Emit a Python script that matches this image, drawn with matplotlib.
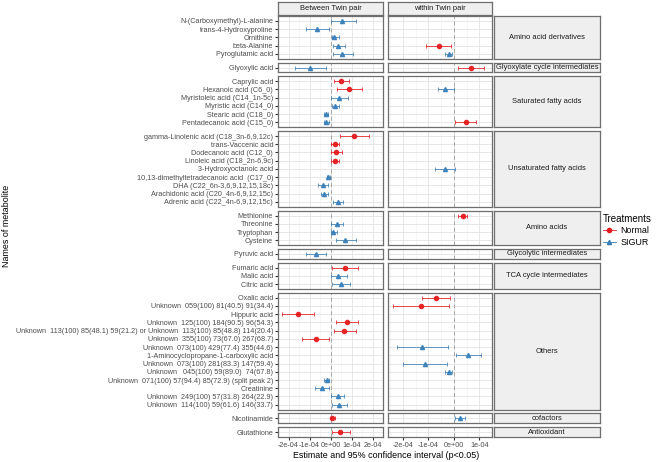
import numpy as np
import matplotlib.pyplot as plt
from matplotlib.lines import Line2D

plt.rcParams['font.family'] = ['Liberation Sans', 'DejaVu Sans']

# facet rows (metabolite classes) and how many metabolites each holds
groups = ['Amino acid derivatives', 'Glyoxylate cycle intermediates', 'Saturated fatty acids',
          'Unsaturated fatty acids', 'Amino acids', 'Glycolytic intermediates',
          'TCA cycle intermediates', 'Others', 'cofactors', 'Antioxidant']
group_sizes = [5, 1, 6, 9, 4, 1, 3, 14, 1, 1]

metabolites = [
    'N-(Carboxymethyl)-L-alanine', 'trans-4-Hydroxyproline', 'Ornithine', 'beta-Alanine',
    'Pyroglutamic acid',
    'Glyoxylic acid',
    'Caprylic acid', 'Hexanoic acid (C6_0)', 'Myristoleic acid (C14_1n-5c)', 'Myristic acid (C14_0)',
    'Stearic acid (C18_0)', 'Pentadecanoic acid (C15_0)',
    'gamma-Linolenic acid (C18_3n-6,9,12c)', 'trans-Vaccenic acid', 'Dodecanoic acid (C12_0)',
    'Linoleic acid (C18_2n-6,9c)', '3-Hydroxyoctanoic acid', '10,13-dimethyltetradecanoic acid  (C17_0)',
    'DHA (C22_6n-3,6,9,12,15,18c)', 'Arachidonic acid (C20_4n-6,9,12,15c)',
    'Adrenic acid (C22_4n-6,9,12,15c)',
    'Methionine', 'Threonine', 'Tryptophan', 'Cysteine',
    'Pyruvic acid',
    'Fumaric acid', 'Malic acid', 'Citric acid',
    'Oxalic acid', 'Unknown  059(100) 81(40.5) 91(34.4)', 'Hippuric acid',
    'Unknown  125(100) 184(90.5) 96(54.3)',
    'Unknown  113(100) 85(48.1) 59(21.2) or Unknown  113(100) 85(48.8) 114(20.4)',
    'Unknown  355(100) 73(67.0) 267(68.7)', 'Unknown  073(100) 429(77.4) 355(44.6)',
    '1-Aminocyclopropane-1-carboxylic acid', 'Unknown  073(100) 281(83.3) 147(59.4)',
    'Unknown   045(100) 59(89.0)  74(67.8)', 'Unknown  071(100) 57(94.4) 85(72.9) (split peak 2)',
    'Creatinine', 'Unknown  249(100) 57(31.8) 264(22.9)', 'Unknown  114(100) 59(61.6) 146(33.7)',
    'Nicotinamide',
    'Glutathione',
]

n_ = np.nan
# Between Twin pair (values in 1e-04)
between_trt = ['S', 'S', 'S', 'S', 'S', 'S', 'N', 'N', 'S', 'S', 'S', 'S', 'N', 'N', 'N', 'N', '',
               'S', 'S', 'S', 'S', '', 'S', 'S', 'S', 'S', 'N', 'S', 'S', '', '', 'N', 'N', 'N',
               'N', '', '', '', '', 'S', 'S', 'S', 'S', 'N', 'N']
between_est = [0.56, -0.63, 0.16, 0.37, 0.56, -0.97, 0.50, 0.86, 0.41, 0.20, -0.20, -0.20, 1.11,
               0.21, 0.26, 0.20, n_, -0.10, -0.34, -0.29, 0.36, n_, 0.33, 0.14, 0.71, -0.71, 0.69,
               0.36, 0.49, n_, n_, -1.54, 0.80, 0.66, -0.70, n_, n_, n_, n_, -0.19, -0.40, 0.34,
               0.40, 0.09, 0.46]
between_lo = [0.00, -1.19, 0.06, 0.10, 0.10, -1.70, 0.16, 0.30, 0.00, 0.06, -0.29, -0.31, 0.44,
              0.03, 0.00, 0.00, n_, -0.17, -0.59, -0.44, 0.13, n_, 0.03, 0.03, 0.26, -1.19, 0.09,
              0.00, 0.09, n_, n_, -2.30, 0.27, 0.16, -1.37, n_, n_, n_, n_, -0.30, -0.73, 0.01,
              0.06, 0.00, 0.06]
between_hi = [1.22, -0.06, 0.39, 0.70, 1.06, -0.20, 0.87, 1.49, 0.81, 0.41, -0.11, -0.09, 1.81,
              0.41, 0.53, 0.41, n_, -0.03, -0.13, -0.13, 0.60, n_, 0.61, 0.33, 1.21, -0.23, 1.30,
              0.79, 0.91, n_, n_, -0.77, 1.31, 1.20, -0.06, n_, n_, n_, n_, -0.09, -0.06, 0.63,
              0.79, 0.20, 0.91]

# within Twin pair (values in 1e-04)
within_trt = ['', '', '', 'N', 'S', 'N', '', 'S', '', '', '', 'N', '', '', '', '', 'S', '', '', '',
              '', 'N', '', '', '', '', '', '', '', 'N', 'N', '', '', '', '', 'S', 'S', 'S', 'S',
              '', '', '', '', 'S', '']
within_est = [n_, n_, n_, -0.60, -0.20, 0.68, n_, -0.33, n_, n_, n_, 0.46, n_, n_, n_, n_, -0.36,
              n_, n_, n_, n_, 0.36, n_, n_, n_, n_, n_, n_, n_, -0.70, -1.30, n_, n_, n_, n_,
              -1.25, 0.55, -1.15, -0.20, n_, n_, n_, n_, 0.24, n_]
within_lo = [n_, n_, n_, -1.08, -0.33, 0.18, n_, -0.63, n_, n_, n_, 0.03, n_, n_, n_, n_, -0.74,
             n_, n_, n_, n_, 0.18, n_, n_, n_, n_, n_, n_, n_, -1.26, -2.41, n_, n_, n_, n_,
             -2.24, 0.09, -2.01, -0.33, n_, n_, n_, n_, 0.05, n_]
within_hi = [n_, n_, n_, -0.11, -0.08, 1.18, n_, 0.00, n_, n_, n_, 0.89, n_, n_, n_, n_, 0.03,
             n_, n_, n_, n_, 0.51, n_, n_, n_, n_, n_, n_, n_, -0.14, -0.20, n_, n_, n_, n_,
             -0.24, 1.05, -0.26, -0.08, n_, n_, n_, n_, 0.45, n_]

panels = [
    ('Between Twin pair', between_trt, np.array(between_est) * 1e-4,
     np.array(between_lo) * 1e-4, np.array(between_hi) * 1e-4, [-2e-4, -1e-4, 0, 1e-4, 2e-4]),
    ('within Twin pair', within_trt, np.array(within_est) * 1e-4,
     np.array(within_lo) * 1e-4, np.array(within_hi) * 1e-4, [-2e-4, -1e-4, 0, 1e-4]),
]

colors = {'N': '#E41A1C', 'S': '#377EB8'}
markers = {'N': 'o', 'S': '^'}

W, H = 660, 462
fig = plt.figure(figsize=(W / 100, H / 100), dpi=100)


def box(x0, y0, x1, y1):
    # pixel box (y measured from top) -> figure fraction rect
    return [x0 / W, 1 - y1 / H, (x1 - x0) / W, (y1 - y0) / H]


col_x = [(278, 383), (388, 492)]
strip_x = (494, 600)
top, bottom, gap = 16, 437, 3.8
unit = (bottom - top - gap * (len(groups) - 1)) / (sum(group_sizes) + 0.2 * len(groups))
border = '#6E6E6E'
strip_fill = '#EFEFEF'
tick_col = '#4D4D4D'
fs = 5.2
strip_fs = 5.4

# column strips on top
for (title, *_), (x0, x1) in zip(panels, col_x):
    sax = fig.add_axes(box(x0, 2, x1, 15))
    sax.set_facecolor(strip_fill)
    sax.set_xticks([]); sax.set_yticks([])
    for s in sax.spines.values():
        s.set_color(border); s.set_linewidth(0.9)
    sax.text(0.5, 0.5, title, ha='center', va='center', fontsize=strip_fs, color='#1A1A1A',
             transform=sax.transAxes)

start = 0
y_cur = top
for gi, (gname, n) in enumerate(zip(groups, group_sizes)):
    h = (n + 0.2) * unit
    rows = slice(start, start + n)
    for pi, ((title, trt, est, lo, hi, ticks), (x0, x1)) in enumerate(zip(panels, col_x)):
        ax = fig.add_axes(box(x0, y_cur, x1, y_cur + h))
        lo_all, hi_all = np.nanmin(lo), np.nanmax(hi)
        pad = (hi_all - lo_all) * 0.05
        ax.set_xlim(lo_all - pad, hi_all + pad)
        ax.set_ylim(n - 0.4, -0.6)
        ax.set_xticks(ticks)
        ax.set_xticks([t + 0.5e-4 for t in ticks[:-1]] + [ticks[0] - 0.5e-4, ticks[-1] + 0.5e-4],
                      minor=True)
        ax.set_yticks(range(n))
        ax.grid(which='major', color='#E3E3E3', lw=0.6, zorder=0)
        ax.grid(which='minor', axis='x', color='#F0F0F0', lw=0.4, zorder=0)
        ax.set_axisbelow(True)
        ax.axvline(0, color='#A6A6A6', lw=0.7, ls=(0, (4, 3)), zorder=1)
        for s in ax.spines.values():
            s.set_color(border); s.set_linewidth(0.9)
        ax.tick_params(which='both', length=0, labelsize=fs, colors=tick_col, pad=1.5)
        ax.tick_params(which='major', length=2, color='#333333')
        ax.tick_params(which='minor', length=0)
        if pi == 0:
            ax.set_yticklabels(metabolites[rows], fontsize=fs, color=tick_col)
        else:
            ax.set_yticklabels([])
            ax.tick_params(axis='y', length=0)
        if gi == len(groups) - 1:
            ax.set_xticklabels(['{:.0e}'.format(t) for t in ticks], fontsize=fs, color=tick_col)
        else:
            ax.set_xticklabels([])
            ax.tick_params(axis='x', length=0)
        for k in range(n):
            t = trt[start + k]
            if not t:
                continue
            e, l, u = est[start + k], lo[start + k], hi[start + k]
            ax.errorbar([e], [k], xerr=[[e - l], [u - e]], fmt=markers[t], color=colors[t],
                        ms=3.0 if t == 'N' else 3.0, elinewidth=0.6, capsize=1.3,
                        capthick=0.6, zorder=3, alpha=0.9)
    # row strip on the right
    sax = fig.add_axes(box(strip_x[0], y_cur, strip_x[1], y_cur + h))
    sax.set_facecolor(strip_fill)
    sax.set_xticks([]); sax.set_yticks([])
    for s in sax.spines.values():
        s.set_color(border); s.set_linewidth(0.9)
    sax.text(0.5, 0.5, gname, ha='center', va='center', fontsize=strip_fs, color='#1A1A1A',
             transform=sax.transAxes)
    start += n
    y_cur += h + gap

fig.text(386 / W, 1 - 456 / H, 'Estimate and 95% confidence interval (p<0.05)', ha='center',
         va='center', fontsize=6.4, color='black')
fig.text(7 / W, 1 - 226 / H, 'Names of metabolite', rotation=90, ha='center', va='center',
         fontsize=6.4, color='black')

handles = [Line2D([], [], color=colors['N'], marker='o', ms=3.0, lw=0.6),
           Line2D([], [], color=colors['S'], marker='^', ms=3.0, lw=0.6)]
leg = fig.legend(handles, ['Normal', 'SIGUR'], title='Treatments', loc='upper left',
                 bbox_to_anchor=(599 / W, 1 - 210 / H), frameon=False, fontsize=6.4,
                 title_fontsize=7.0, handlelength=1.5, handletextpad=0.5, labelspacing=0.3,
                 borderaxespad=0)
leg._legend_box.align = 'left'

fig.savefig('out.png', dpi=100)
